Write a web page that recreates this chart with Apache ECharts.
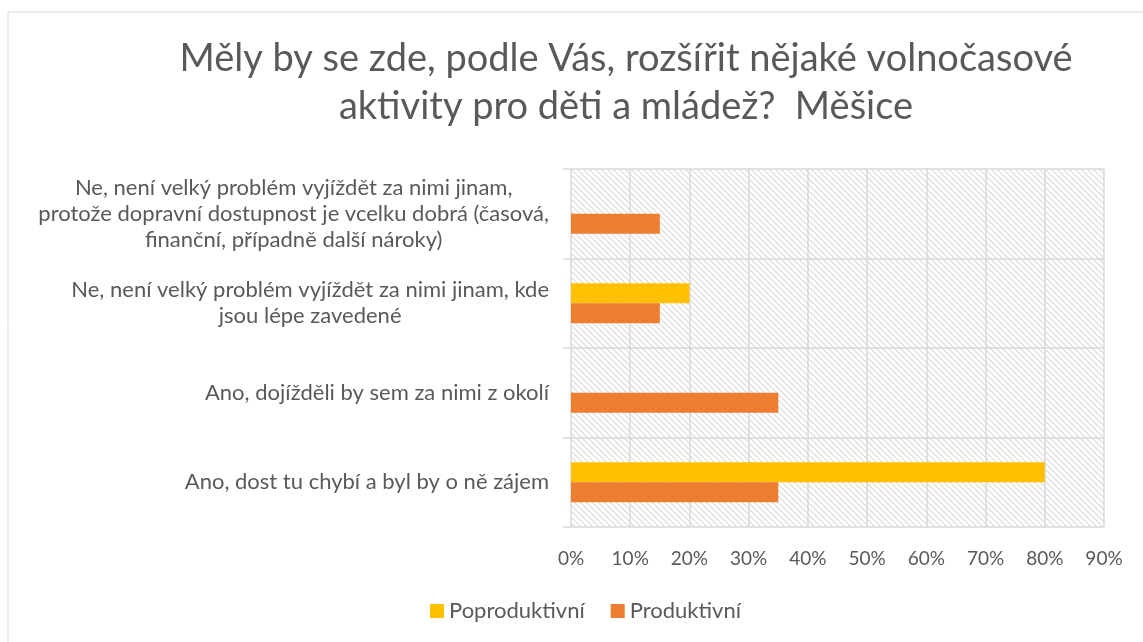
<!DOCTYPE html>
<html>
<head>
<meta charset="utf-8">
<script src="https://cdn.jsdelivr.net/npm/echarts@6/dist/echarts.min.js"></script>
<style>
  html, body { margin: 0; padding: 0; background: #fff; }
  #chart { width: 1143px; height: 642px; }
</style>
</head>
<body>
<div id="chart"></div>
<script>
var categories = [
  'Ano, dost tu chybí a byl by o ně zájem',
  'Ano, dojížděli by sem za nimi z okolí',
  'Ne, není velký problém vyjíždět za nimi jinam, kde\njsou lépe zavedené',
  'Ne, není velký problém vyjíždět za nimi jinam,\nprotože dopravní dostupnost je vcelku dobrá (časová,\nfinanční, případně další nároky)'
];
var seriesNames = ['Poproduktivní', 'Produktivní'];
var poproduktivni = [80, 0, 20, 0];
var produktivni = [35, 35, 15, 15];

var textColor = '#595959';
var gridColor = '#d9d9d9';
var font = 'Lato';

// hatched background like the Excel pattern fill
function hatch() {
  var c = document.createElement('canvas');
  c.width = 6; c.height = 6;
  var ctx = c.getContext('2d');
  ctx.fillStyle = '#fff';
  ctx.fillRect(0, 0, 6, 6);
  ctx.strokeStyle = '#d9d9d9';
  ctx.lineWidth = 1.1;
  ctx.beginPath();
  ctx.moveTo(-1, -1); ctx.lineTo(7, 7);
  ctx.moveTo(-1, 5); ctx.lineTo(1, 7);
  ctx.moveTo(5, -1); ctx.lineTo(7, 1);
  ctx.stroke();
  return c;
}

var chart = echarts.init(document.getElementById('chart'));
chart.setOption({
  backgroundColor: '#fff',
  textStyle: { fontFamily: font },
  graphic: [{
    type: 'rect',
    shape: { x: 8, y: 12, width: 1160, height: 660 },
    style: { fill: 'none', stroke: gridColor, lineWidth: 1 },
    silent: true
  }],
  title: {
    text: 'Měly by se zde, podle Vás, rozšířit nějaké volnočasové\naktivity pro děti a mládež?  Měšice',
    left: 621,
    top: 30,
    textAlign: 'center',
    textStyle: {
      fontFamily: font,
      fontSize: 38,
      fontWeight: 'normal',
      color: textColor,
      lineHeight: 48
    }
  },
  legend: {
    data: seriesNames,
    left: 425,
    top: 595,
    itemWidth: 14,
    itemHeight: 14,
    itemGap: 26,
    icon: 'rect',
    textStyle: { fontFamily: font, fontSize: 22, color: textColor }
  },
  grid: {
    left: 571,
    right: 39,
    top: 169,
    bottom: 115,
    show: true,
    borderWidth: 0,
    backgroundColor: { image: hatch(), repeat: 'repeat' }
  },
  xAxis: {
    type: 'value',
    min: 0,
    max: 90,
    interval: 10,
    axisLine: { show: false },
    axisTick: { show: false },
    splitLine: { show: true, lineStyle: { color: gridColor, width: 1.5 } },
    axisLabel: {
      formatter: '{value}%',
      fontFamily: font,
      fontSize: 19,
      color: textColor,
      margin: 22
    }
  },
  yAxis: {
    type: 'category',
    data: categories,
    axisLine: { show: false },
    axisTick: { show: true, length: 8, lineStyle: { color: gridColor, width: 1.5 } },
    splitLine: { show: true, lineStyle: { color: gridColor, width: 1.5 } },
    axisLabel: {
      align: 'right',
      margin: 22,
      formatter: function (v) {
        return v.split('\n').map(function (l) { return '{c|' + l + '}'; }).join('\n');
      },
      rich: {
        c: { align: 'center', fontFamily: font, fontSize: 22, lineHeight: 26, color: textColor }
      }
    }
  },
  series: [
    {
      name: seriesNames[0],
      type: 'bar',
      data: poproduktivni,
      barWidth: 20,
      barGap: '0%',
      itemStyle: { color: '#FFC000' }
    },
    {
      name: seriesNames[1],
      type: 'bar',
      data: produktivni,
      barWidth: 20,
      barGap: '0%',
      itemStyle: { color: '#ED7D31' }
    }
  ]
});
</script>
</body>
</html>
